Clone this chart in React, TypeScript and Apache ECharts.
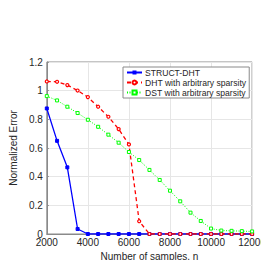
import React, { useEffect, useRef } from "react";
import * as echarts from "echarts";

const samples = [2000, 2500, 3000, 3500, 4000, 4500, 5000, 5500, 6000, 6500, 7000, 7500, 8000, 8500, 9000, 9500, 10000, 10500, 11000, 11500, 12000];
const structDht = [0.876, 0.65, 0.465, 0.035, 0, 0, 0, 0, 0, 0, 0, 0, 0, 0, 0, 0, 0, 0, 0, 0, 0];
const dhtArb = [1.064, 1.062, 1.039, 1.001, 0.955, 0.888, 0.818, 0.732, 0.625, 0.089, 0, 0, 0, 0, 0, 0, 0, 0, 0, 0, 0];
const dstArb = [0.962, 0.932, 0.888, 0.844, 0.797, 0.748, 0.693, 0.637, 0.572, 0.516, 0.447, 0.377, 0.302, 0.228, 0.149, 0.091, 0.038, 0.024, 0.022, 0.02, 0.018];
const seriesNames = ["STRUCT-DHT", "DHT with arbitrary sparsity", "DST with arbitrary sparsity"];

const pair = (ys: number[]) => samples.map((x, i) => [x, ys[i]]);

export default function App() {
  const ref = useRef<HTMLDivElement>(null);
  useEffect(() => {
    if (!ref.current) return;
    const chart = echarts.init(ref.current, undefined, { renderer: "svg" });
    const font = "Helvetica, Arial, 'Liberation Sans', sans-serif";
    chart.setOption({
      animation: false,
      textStyle: { fontFamily: font },
      grid: { left: 34, right: 15, top: 62, bottom: 34, show: true, borderColor: "#8a8a8a", borderWidth: 1, backgroundColor: "#fff" },
      legend: {
        left: 123,
        top: 67,
        orient: "vertical",
        itemWidth: 15,
        itemHeight: 5,
        itemGap: 1,
        padding: [1, 3, 1, 3],
        borderColor: "#8a8a8a",
        borderWidth: 1,
        backgroundColor: "#fff",
        textStyle: { fontSize: 8.6, color: "#262626", fontFamily: font, padding: [0, 0, 0, -2] },
        data: seriesNames,
      },
      xAxis: {
        type: "value",
        min: 2000,
        max: 12000,
        interval: 2000,
        name: "Number of samples, n",
        nameLocation: "middle",
        nameGap: 13,
        nameTextStyle: { fontSize: 10, color: "#262626", fontFamily: font },
        axisLine: { lineStyle: { color: "#8a8a8a" } },
        axisTick: { inside: true, length: 2, lineStyle: { color: "#8a8a8a" } },
        axisLabel: { fontSize: 10, color: "#262626", margin: 3, fontFamily: font, formatter: (v: number) => String(v) },
        splitLine: { lineStyle: { color: "#e6e6e6" } },
      },
      yAxis: {
        type: "value",
        min: 0,
        max: 1.2,
        interval: 0.2,
        name: "Normalized Error",
        nameLocation: "middle",
        nameGap: 20,
        nameTextStyle: { fontSize: 10, color: "#262626", fontFamily: font },
        axisLine: { show: true, lineStyle: { color: "#8a8a8a" } },
        axisTick: { show: true, inside: true, length: 2, lineStyle: { color: "#8a8a8a" } },
        axisLabel: { fontSize: 10, color: "#262626", margin: 4, fontFamily: font },
        splitLine: { lineStyle: { color: "#e6e6e6" } },
      },
      series: [
        {
          name: seriesNames[0],
          type: "line",
          data: pair(structDht),
          symbol: "rect",
          symbolSize: 3,
          lineStyle: { color: "#0000ff", width: 1.3 },
          itemStyle: { color: "#0000ff", borderColor: "#0000ff" },
          z: 2,
        },
        {
          name: seriesNames[1],
          type: "line",
          data: pair(dhtArb),
          symbol: "circle",
          symbolSize: 3,
          lineStyle: { color: "#ff0000", width: 1.3, type: [4, 3] },
          itemStyle: { color: "#ffffff", borderColor: "#ff0000", borderWidth: 1.2 },
          z: 3,
        },
        {
          name: seriesNames[2],
          type: "line",
          data: pair(dstArb),
          symbol: "rect",
          symbolSize: 3,
          lineStyle: { color: "#00ff00", width: 1, type: [1, 1.5] },
          itemStyle: { color: "#ffffff", borderColor: "#00ff00", borderWidth: 1 },
          z: 4,
        },
      ],
    });
    return () => chart.dispose();
  }, []);
  return <div ref={ref} style={{ width: 269, height: 268, margin: -8 }} />;
}
